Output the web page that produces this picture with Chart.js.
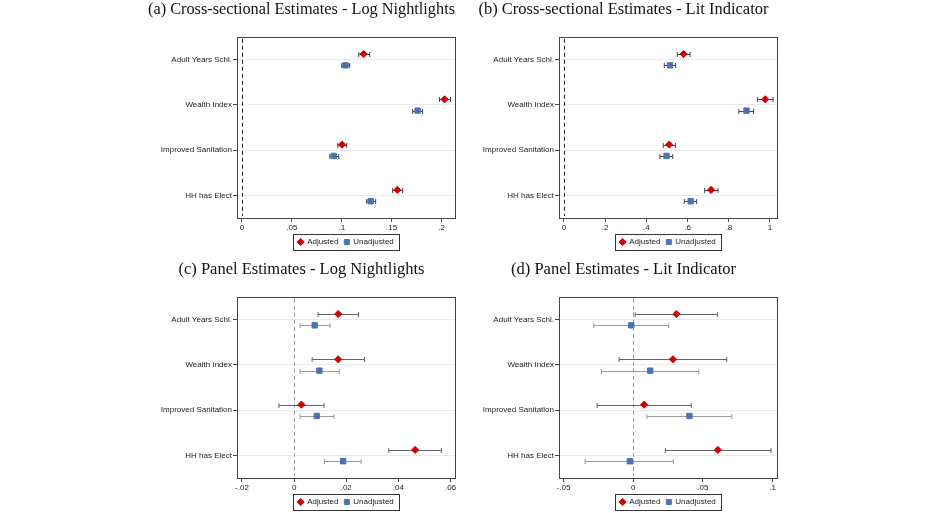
<!DOCTYPE html>
<html>
<head>
<meta charset="utf-8">
<script src="https://cdn.jsdelivr.net/npm/chart.js"></script>
<style>
    body { margin: 0; background: #fff; width: 936px; height: 513px; position: relative; overflow: hidden; }
    .panel { position: absolute; width: 318px; height: 256px; }
</style>
</head>
<body>
<div class="panel" style="left:148px; top:0px;"><canvas id="chartA" width="318" height="256"></canvas></div>
<div class="panel" style="left:470px; top:0px;"><canvas id="chartB" width="318" height="256"></canvas></div>
<div class="panel" style="left:148px; top:260px;"><canvas id="chartC" width="318" height="256"></canvas></div>
<div class="panel" style="left:470px; top:260px;"><canvas id="chartD" width="318" height="256"></canvas></div>

<script>
// Categories (top to bottom)
const categories = ['Adult Years Schl.', 'Wealth Index', 'Improved Sanitation', 'HH has Elect'];
const seriesNames = ['Adjusted', 'Unadjusted'];

// (a) Cross-sectional - Log Nightlights
const adjA = [0.122, 0.203, 0.1004, 0.1557];
const adjALo = [0.117, 0.198, 0.096, 0.151];
const adjAHi = [0.128, 0.209, 0.105, 0.161];
const unadjA = [0.1037, 0.176, 0.092, 0.129];
const unadjALo = [0.1, 0.171, 0.088, 0.125];
const unadjAHi = [0.108, 0.181, 0.097, 0.134];
const ticksA = [0, 0.05, 0.1, 0.15, 0.2];

// (b) Cross-sectional - Lit Indicator
const adjB = [0.581, 0.977, 0.511, 0.714];
const adjBLo = [0.55, 0.94, 0.482, 0.683];
const adjBHi = [0.612, 1.015, 0.541, 0.748];
const unadjB = [0.515, 0.886, 0.498, 0.615];
const unadjBLo = [0.487, 0.849, 0.466, 0.584];
const unadjBHi = [0.542, 0.92, 0.528, 0.644];
const ticksB = [0, 0.2, 0.4, 0.6, 0.8, 1];

// (c) Panel - Log Nightlights
const adjC = [0.0169, 0.0169, 0.0028, 0.0464];
const adjCLo = [0.0092, 0.0069, -0.0058, 0.0363];
const adjCHi = [0.0247, 0.027, 0.0115, 0.0565];
const unadjC = [0.0079, 0.0097, 0.0087, 0.0188];
const unadjCLo = [0.0023, 0.0023, 0.0023, 0.0116];
const unadjCHi = [0.0138, 0.0173, 0.0153, 0.0257];
const ticksC = [-0.02, 0, 0.02, 0.04, 0.06];

// (d) Panel - Lit Indicator
const adjD = [0.0309, 0.0285, 0.0079, 0.0607];
const adjDLo = [0.0014, -0.0101, -0.0259, 0.023];
const adjDHi = [0.0604, 0.0671, 0.0417, 0.0988];
const unadjD = [-0.0014, 0.0122, 0.0403, -0.0024];
const unadjDLo = [-0.0283, -0.0228, 0.0098, -0.0345];
const unadjDHi = [0.0254, 0.047, 0.0707, 0.0288];
const ticksD = [-0.05, 0, 0.05, 0.1];

const RED = '#d10000';
const BLUE = '#4a74b0';
const SANS = "'Liberation Sans', Arial, sans-serif";
const SERIF = "'Liberation Serif', 'DejaVu Serif', serif";

// Stata style labels: .05, -.02
function fmtTick(v) {
    const s = String(Number(v.toFixed(4)));
    return s.replace(/^0\./, '.').replace(/^-0\./, '-.');
}

// Confidence intervals, zero line, plot frame, legend frame
const coefPlugin = {
    id: 'coefPlugin',
    beforeDatasetsDraw(chart, args, opts) {
        const ctx = chart.ctx;
        const x = chart.scales.x;
        const area = chart.chartArea;
        // dashed zero line
        const x0 = Math.round(x.getPixelForValue(0)) + 0.5;
        ctx.save();
        ctx.strokeStyle = opts.zeroColor;
        ctx.lineWidth = 1;
        ctx.setLineDash([4, 3]);
        ctx.beginPath();
        ctx.moveTo(x0, area.top + 2);
        ctx.lineTo(x0, area.bottom - 2);
        ctx.stroke();
        ctx.setLineDash([]);
        // error bars
        chart.data.datasets.forEach((ds, di) => {
            const meta = chart.getDatasetMeta(di);
            ctx.strokeStyle = opts.ciColors[di];
            meta.data.forEach((pt, i) => {
                const y = Math.round(pt.y) + 0.5;
                const a = x.getPixelForValue(ds.lo[i]);
                const b = x.getPixelForValue(ds.hi[i]);
                ctx.beginPath();
                ctx.moveTo(a, y); ctx.lineTo(b, y);
                ctx.moveTo(a, y - 2.5); ctx.lineTo(a, y + 2.5);
                ctx.moveTo(b, y - 2.5); ctx.lineTo(b, y + 2.5);
                ctx.stroke();
            });
        });
        ctx.restore();
    },
    afterDraw(chart) {
        const ctx = chart.ctx;
        const area = chart.chartArea;
        ctx.save();
        ctx.strokeStyle = '#444';
        ctx.lineWidth = 1;
        ctx.strokeRect(Math.round(area.left) + 0.5, Math.round(area.top) + 0.5,
            Math.round(area.right - area.left), Math.round(area.bottom - area.top));
        const hb = chart.legend.legendHitBoxes;
        if (hb && hb.length) {
            const l = Math.min(...hb.map(h => h.left)) - 5;
            const r = Math.max(...hb.map(h => h.left + h.width)) + 5;
            const t = Math.min(...hb.map(h => h.top)) - 4;
            const btm = Math.max(...hb.map(h => h.top + h.height)) + 4;
            ctx.strokeStyle = '#333';
            ctx.strokeRect(Math.round(l) + 0.5, Math.round(t) + 0.5, Math.round(r - l), Math.round(btm - t));
        }
        ctx.restore();
    }
};

function makeChart(id, title, adj, adjLo, adjHi, unadj, unadjLo, unadjHi, ticks, xMin, xMax, zeroColor, ciColors) {
    const ctx = document.getElementById(id).getContext('2d');
    return new Chart(ctx, {
        type: 'scatter',
        data: {
            datasets: [
                {
                    label: seriesNames[0],
                    data: adj.map((v, i) => ({ x: v, y: i + 1 - 0.12 })),
                    lo: adjLo, hi: adjHi,
                    pointStyle: 'rectRot',
                    pointRadius: 3.6,
                    backgroundColor: RED,
                    borderColor: RED,
                    borderWidth: 1
                },
                {
                    label: seriesNames[1],
                    data: unadj.map((v, i) => ({ x: v, y: i + 1 + 0.13 })),
                    lo: unadjLo, hi: unadjHi,
                    pointStyle: 'rect',
                    pointRadius: 3.8,
                    backgroundColor: BLUE,
                    borderColor: BLUE,
                    borderWidth: 1
                }
            ]
        },
        options: {
            responsive: false,
            animation: false,
            layout: { padding: { left: 0, right: 11, top: 0, bottom: 0 } },
            scales: {
                x: {
                    type: 'linear',
                    min: xMin,
                    max: xMax,
                    afterBuildTicks: (axis) => { axis.ticks = ticks.map(v => ({ value: v })); },
                    afterFit: (s) => { s.height = 14; },
                    border: { display: false },
                    grid: { drawOnChartArea: false, drawTicks: true, tickLength: 4, tickColor: '#444' },
                    ticks: {
                        color: '#222',
                        font: { family: SANS, size: 8 },
                        padding: 1,
                        maxRotation: 0,
                        callback: (v) => fmtTick(v)
                    }
                },
                y: {
                    type: 'linear',
                    reverse: true,
                    min: 0.5,
                    max: 4.5,
                    afterBuildTicks: (axis) => { axis.ticks = categories.map((c, i) => ({ value: i + 1 })); },
                    afterFit: (s) => { s.width = 89; },
                    border: { display: false },
                    grid: { color: '#e9e9e9', drawTicks: true, tickLength: 4, tickColor: '#444' },
                    ticks: {
                        color: '#222',
                        font: { family: SANS, size: 8 },
                        padding: 1,
                        callback: (v) => categories[v - 1]
                    }
                }
            },
            plugins: {
                title: {
                    display: true,
                    text: title,
                    color: '#111',
                    font: { family: SERIF, size: 16.5, weight: 'normal' },
                    padding: { top: 0, bottom: 17 }
                },
                legend: {
                    display: true,
                    position: 'bottom',
                    fullSize: false,
                    labels: {
                        usePointStyle: true,
                        boxWidth: 5,
                        boxHeight: 5,
                        padding: 6,
                        color: '#222',
                        font: { family: SANS, size: 8 }
                    }
                },
                tooltip: { enabled: false },
                coefPlugin: { zeroColor: zeroColor, ciColors: ciColors }
            }
        },
        plugins: [coefPlugin]
    });
}

makeChart('chartA', '(a) Cross-sectional Estimates - Log Nightlights',
    adjA, adjALo, adjAHi, unadjA, unadjALo, unadjAHi, ticksA, -0.005, 0.2135, '#222', ['#444', '#444']);
makeChart('chartB', '(b) Cross-sectional Estimates - Lit Indicator',
    adjB, adjBLo, adjBHi, unadjB, unadjBLo, unadjBHi, ticksB, -0.024, 1.034, '#222', ['#444', '#444']);
makeChart('chartC', '(c) Panel Estimates - Log Nightlights',
    adjC, adjCLo, adjCHi, unadjC, unadjCLo, unadjCHi, ticksC, -0.0219, 0.0617, '#999', ['#666', '#999']);
makeChart('chartD', '(d) Panel Estimates - Lit Indicator',
    adjD, adjDLo, adjDHi, unadjD, unadjDLo, unadjDHi, ticksD, -0.0532, 0.1031, '#999', ['#666', '#999']);
</script>
</body>
</html>
